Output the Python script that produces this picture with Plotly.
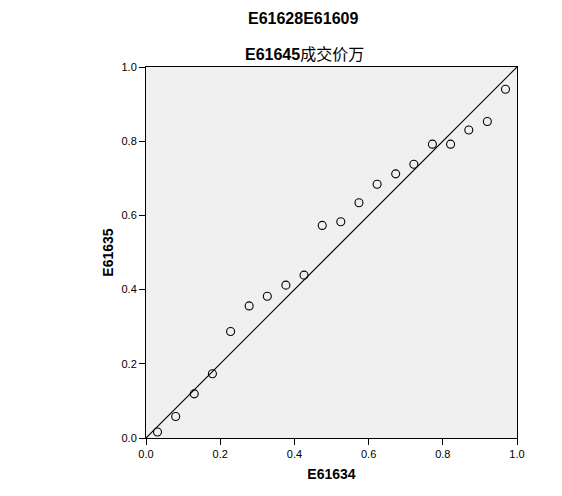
import plotly.graph_objects as go

# Observed cumulative probability (x) vs expected cumulative probability (y)
observed_prob = [0.031, 0.080, 0.130, 0.179, 0.228, 0.278, 0.327, 0.377, 0.426, 0.475,
                 0.525, 0.574, 0.623, 0.673, 0.722, 0.772, 0.821, 0.870, 0.920, 0.969]
expected_prob = [0.016, 0.058, 0.119, 0.173, 0.287, 0.356, 0.382, 0.412, 0.439, 0.573,
                 0.583, 0.634, 0.684, 0.712, 0.738, 0.792, 0.792, 0.830, 0.853, 0.940]
ref_line = [0.0, 1.0]
tick_vals = [0.0, 0.2, 0.4, 0.6, 0.8, 1.0]
tick_text = ["0.0", "0.2", "0.4", "0.6", "0.8", "1.0"]

font_family = "Liberation Sans, Arial, sans-serif"
OFF = 8  # default body margin of the html page

fig = go.Figure()
fig.add_trace(go.Scatter(x=ref_line, y=ref_line, mode="lines",
                         line=dict(color="black", width=1.2), hoverinfo="skip",
                         showlegend=False))
fig.add_trace(go.Scatter(x=observed_prob, y=expected_prob, mode="markers",
                         marker=dict(symbol="circle-open", size=8,
                                     color="black", line=dict(width=1.1, color="black")),
                         showlegend=False))

axis_common = dict(range=[0, 1], tickvals=tick_vals, ticktext=tick_text,
                   showline=True, linecolor="black", linewidth=1, mirror=True,
                   ticks="outside", ticklen=6, tickcolor="black",
                   showgrid=False, zeroline=False,
                   tickfont=dict(family=font_family, size=11, color="black"))

fig.update_layout(
    width=562 - OFF, height=496 - OFF,
    margin=dict(l=146 - OFF, r=45, t=67 - OFF, b=58),
    paper_bgcolor="white", plot_bgcolor="#F0F0F0",
    font=dict(family=font_family, color="black"),
    xaxis=dict(**axis_common,
               title=dict(text="<b>E61634</b>", font=dict(size=14, family=font_family), standoff=9)),
    yaxis=dict(**axis_common,
               title=dict(text="<b>E61635</b>", font=dict(size=14, family=font_family), standoff=4)),
    annotations=[
        dict(text="<b>E61628E61609</b>", xref="paper", yref="paper",
             x=(303 - 146) / 371, y=(438 - 19) / 371, showarrow=False,
             font=dict(size=16, family=font_family),
             xanchor="center", yanchor="middle"),
        dict(text="<b>E61645</b><span style=\"font-family:'Noto Sans CJK SC';font-size:16px\">成交价万</span>",
             xref="paper", yref="paper",
             x=(304 - 146) / 371, y=(438 - 53) / 371, showarrow=False,
             font=dict(size=16, family=font_family), xanchor="center", yanchor="middle"),
    ],
)

fig.write_html("out.html")
